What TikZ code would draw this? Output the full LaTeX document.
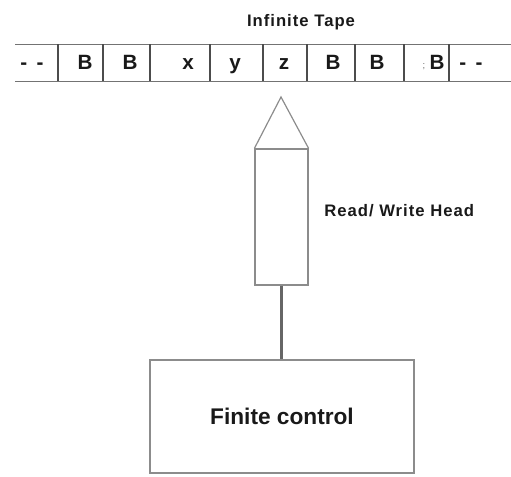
\documentclass[tikz,border=0pt]{standalone}
\usepackage{fontspec}
\setmainfont{Liberation Sans}
\newfontfamily\lblfont[LetterSpace=6]{Liberation Sans Bold}
\newfontfamily\boxfont{Liberation Sans Bold}
\begin{document}
\begin{tikzpicture}[x=0.75pt,y=-0.75pt,
  tapeline/.style={draw=black!55,line width=1.1pt},
  cellsep/.style={draw=black!70,line width=1pt},
  cell/.style={inner sep=0pt,anchor=base,font=\boxfont\fontsize{15.5}{15.5}\selectfont,text=black!90},
  label/.style={inner sep=0pt,font=\lblfont\fontsize{12.5}{13}\selectfont,text=black!90},
  headbox/.style={draw=black!45,line width=0.9pt,inner sep=0pt,fill=white},
  ctrlbox/.style={draw=black!45,line width=1pt,inner sep=0pt},
  conn/.style={draw=black!60,line width=1.6pt}]
\useasboundingbox (0,0) rectangle (511,477);
% tape
\coordinate (tl) at (15,44.5);
\coordinate (tr) at (511,44.5);
\coordinate (bl) at (15,81.5);
\coordinate (br) at (511,81.5);
\draw[tapeline] (tl) -- (tr);
\draw[tapeline] (bl) -- (br);
\foreach \xx in {58,103,150,210,263,307,355,404,449}{
  \draw[cellsep] (\xx,44.5) -- (\xx,81.5);
}
\node[label] (title) at (301,22.5) {Infinite Tape};
\node[cell] (c0) at (32,70) {-\hspace{7pt}-};
\node[cell] (c1) at (85,70) {B};
\node[cell] (c2) at (130,70) {B};
\node[cell] (c3) at (188,70) {x};
\node[cell] (c4) at (235,70) {y};
\node[cell] (c5) at (284,70) {z};
\node[cell] (c6) at (333,70) {B};
\node[cell] (c7) at (377,70) {B};
\node[inner sep=0pt,anchor=base,font=\fontsize{7}{7}\selectfont,text=black!60] (c8a) at (424,69) {;};
\node[cell] (c8) at (437,70) {B};
\node[cell] (c9) at (471,70) {-\hspace{7pt}-};
% head
\node[headbox,minimum width=53*0.75pt,minimum height=136*0.75pt] (head) at (281.5,217) {};
\coordinate (tip) at (281,97);
\draw[draw=black!45,line width=0.9pt] (head.north west) -- (tip) -- (head.north east);
\node[label,anchor=west] (headlbl) at (324,211) {Read/ Write Head};
% finite control
\node[ctrlbox,minimum width=264*0.75pt,minimum height=113*0.75pt] (ctrl) at (282,416.5) {};
\node[inner sep=0pt,font=\boxfont\fontsize{17}{17}\selectfont,text=black!90] (ctrllbl) at (ctrl.center) {Finite control};
\draw[conn] (head.south) -- (head.south |- ctrl.north);
\end{tikzpicture}
\end{document}
